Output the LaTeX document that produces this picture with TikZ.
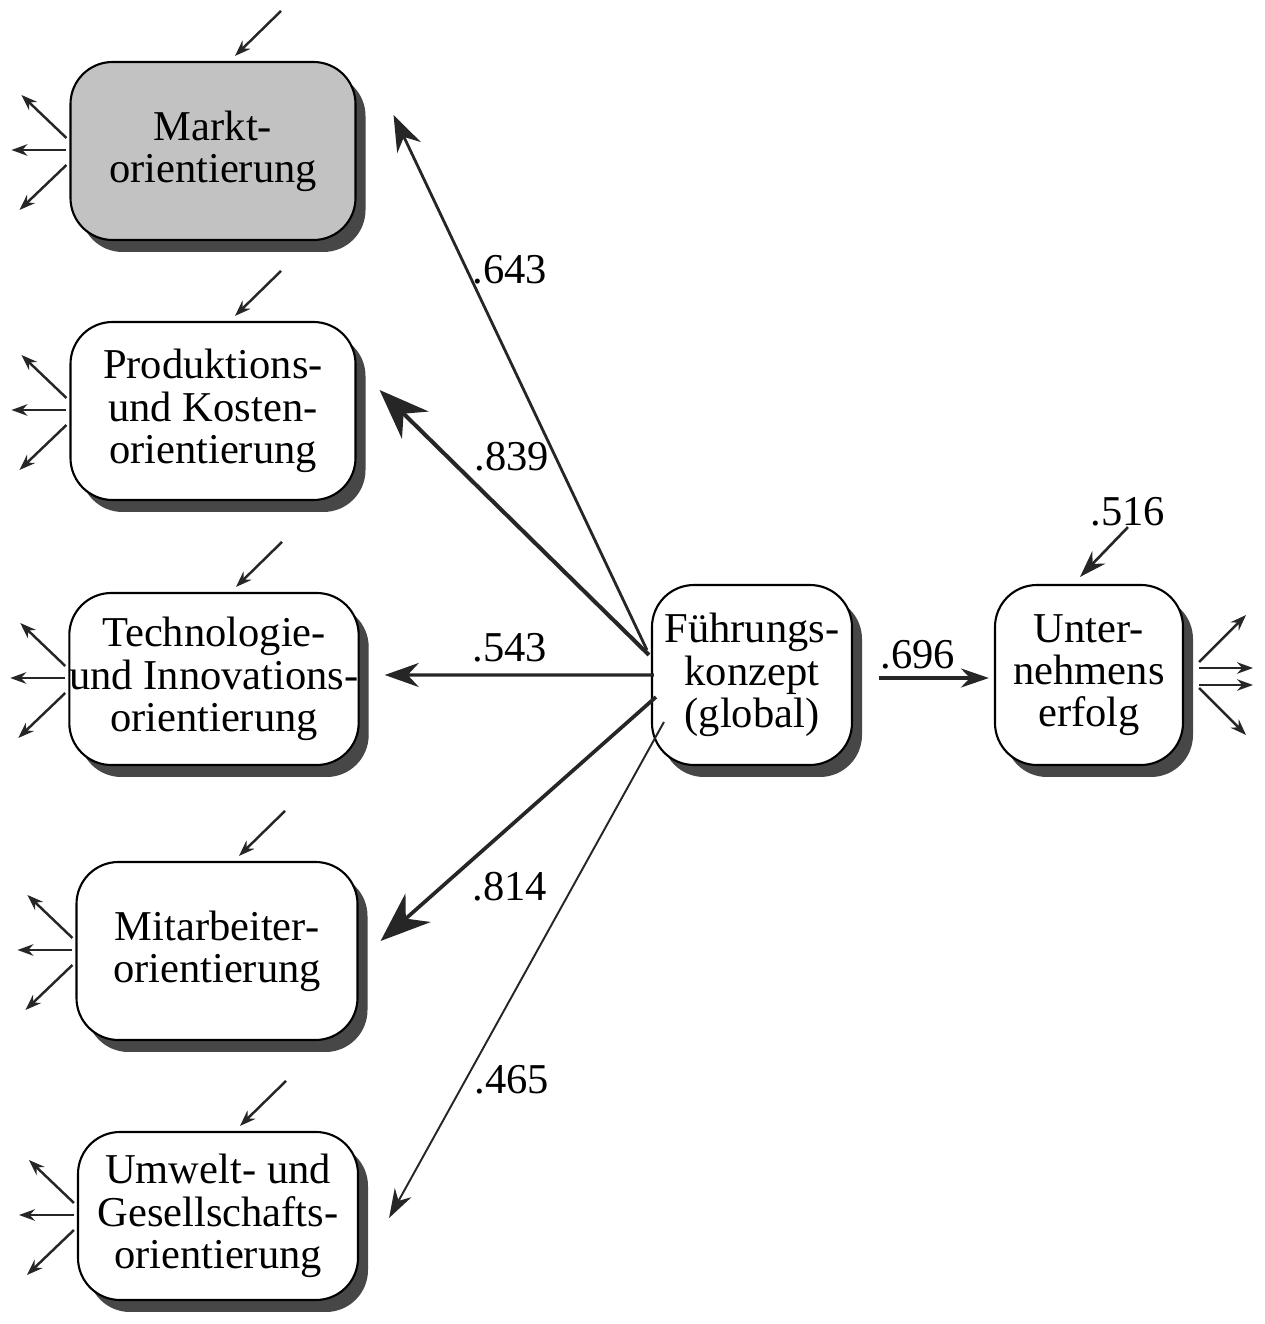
\documentclass[tikz,border=0pt]{standalone}
\usepackage{fontspec}
\setmainfont{Liberation Serif}
\usetikzlibrary{positioning, arrows.meta, calc, shadows}

\begin{document}
\begin{tikzpicture}[
  font=\fontsize{12.1}{12}\selectfont,
  box/.style={draw, line width=0.6pt, rounded corners=0.42cm, fill=white, align=center, inner sep=0pt,
    drop shadow={shadow xshift=0.1cm, shadow yshift=-0.12cm, fill=black!72, opacity=1}},
  ld/.style n args={3}{draw=black!85, line width=#1, -{Stealth[length=#2, width=#3]}},
  err/.style={ld={0.7pt}{1.6mm}{1.15mm}},
  lbl/.style={inner sep=0pt}]
\useasboundingbox (0,0) rectangle (12.65,13.24);
% dimensions
\node[box, fill=gray!48, minimum width=2.85cm, minimum height=1.78cm] (markt) at (2.13,11.73) {Markt-\\orientierung};
\node[box, minimum width=2.85cm, minimum height=1.78cm] (prod) at (2.13,9.13) {Produktions-\\und Kosten-\\orientierung};
\node[box, minimum width=2.82cm, minimum height=1.72cm] (tech) at (2.14,6.45) {Technologie-\\und Innovations-\\orientierung};
\node[box, minimum width=2.81cm, minimum height=1.78cm] (mit) at (2.17,3.73) {Mitarbeiter-\\orientierung};
\node[box, minimum width=2.80cm, minimum height=1.68cm] (umw) at (2.18,1.08) {Umwelt- und\\Gesellschafts-\\orientierung};
% global concept and success
\node[box, minimum width=2.0cm, minimum height=1.8cm] (fk) at (7.52,6.49) {Führungs-\\konzept\\(global)};
\node[box, minimum width=1.88cm, minimum height=1.8cm] (ue) at (10.89,6.49) {Unter-\\nehmens\\erfolg};
% loadings
\node[lbl] (l643) at (5.10,10.54) {.643};
\node[lbl] (l839) at (5.12,8.67) {.839};
\node[lbl] (l543) at (5.10,6.76) {.543};
\node[lbl] (l814) at (5.10,4.37) {.814};
\node[lbl] (l465) at (5.12,2.44) {.465};
\node[lbl] (l696) at (9.18,6.69) {.696};
\node[lbl] (l516) at (11.28,8.12) {.516};
\draw[ld={0.8pt}{3.6mm}{2.6mm}] ($(fk.west)+(-0.04,0.25)$) -- ($(markt.east)+(0.37,0.36)$);
\draw[ld={1.15pt}{5mm}{3.8mm}] ($(fk.west)+(-0.02,0.20)$) -- ($(prod.east)+(0.23,0.21)$);
\draw[ld={0.9pt}{3.4mm}{2.4mm}] ($(fk.west)+(0.03,0)$) -- ($(tech.east)+(0.25,0.04)$);
\draw[ld={1.05pt}{5mm}{3.8mm}] ($(fk.west)+(0.05,-0.22)$) -- ($(mit.east)+(0.22,0.10)$);
\draw[ld={0.55pt}{2.9mm}{1.9mm}] ($(fk.west)+(0.13,-0.47)$) -- ($(umw.east)+(0.30,-0.02)$);
\draw[ld={1pt}{2.8mm}{1.9mm}] ($(fk.east)+(0.26,-0.03)$) -- ($(ue.west)+(-0.05,-0.03)$);
\draw[ld={0.75pt}{2.7mm}{1.8mm}] (l516.south) -- ($(ue.north)+(-0.09,0.07)$);
% residuals and indicators
\foreach \b in {markt,prod,tech,mit,umw}{
  \draw[err] ($(\b.north)+(0.68,0.5)$) -- ($(\b.north)+(0.22,0.05)$);
  \draw[err] ($(\b.west)+(-0.03,0.13)$) -- ++(-0.45,0.43);
  \draw[err] ($(\b.west)+(-0.03,0.01)$) -- ++(-0.55,0);
  \draw[err] ($(\b.west)+(-0.03,-0.14)$) -- ++(-0.47,-0.45);
}
\draw[err] ($(ue.east)+(0.15,0.13)$) -- ++(0.47,0.47);
\draw[err] ($(ue.east)+(0.15,0.07)$) -- ++(0.54,0);
\draw[err] ($(ue.east)+(0.15,-0.10)$) -- ++(0.54,0);
\draw[err] ($(ue.east)+(0.15,-0.13)$) -- ++(0.47,-0.47);
\end{tikzpicture}
\end{document}
